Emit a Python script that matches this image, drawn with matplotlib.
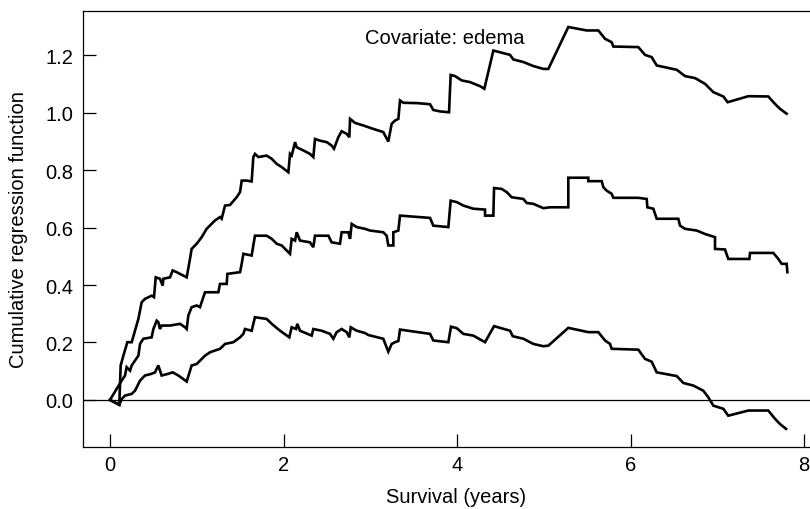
import matplotlib
matplotlib.use("Agg")
import matplotlib.pyplot as plt

plt.rcParams['font.family'] = ['Liberation Sans', 'DejaVu Sans']

# upper band of the cumulative regression function
upper_t = [0.0, 0.107, 0.123, 0.154, 0.200, 0.250, 0.327, 0.365, 0.403, 0.480,
           0.507, 0.527, 0.576, 0.607, 0.615, 0.692, 0.722, 0.768, 0.884, 0.922,
           0.941, 0.999, 1.057, 1.114, 1.210, 1.268, 1.287, 1.326, 1.383, 1.460,
           1.499, 1.518, 1.576, 1.633, 1.652, 1.671, 1.710, 1.806, 1.864, 1.922,
           1.979, 2.056, 2.075, 2.094, 2.133, 2.152, 2.229, 2.305, 2.344, 2.363,
           2.421, 2.498, 2.555, 2.582, 2.632, 2.670, 2.728, 2.759, 2.767, 2.824,
           2.920, 3.035, 3.150, 3.208, 3.247, 3.285, 3.324, 3.343, 3.381, 3.535,
           3.689, 3.727, 3.804, 3.908, 3.927, 3.977, 4.054, 4.150, 4.265, 4.315,
           4.419, 4.496, 4.611, 4.649, 4.765, 4.880, 4.995, 5.053, 5.283, 5.495,
           5.629, 5.706, 5.783, 5.802, 6.090, 6.167, 6.244, 6.302, 6.533, 6.628,
           6.744, 6.859, 6.955, 7.070, 7.120, 7.358, 7.588, 7.666, 7.723, 7.800]
upper_b = [0.0, -0.017, 0.120, 0.154, 0.201, 0.201, 0.282, 0.340, 0.352, 0.363,
           0.358, 0.427, 0.422, 0.398, 0.422, 0.427, 0.451, 0.445, 0.427, 0.491,
           0.526, 0.544, 0.567, 0.596, 0.625, 0.637, 0.631, 0.677, 0.679, 0.706,
           0.724, 0.764, 0.764, 0.761, 0.846, 0.857, 0.846, 0.851, 0.840, 0.822,
           0.811, 0.793, 0.857, 0.851, 0.898, 0.880, 0.869, 0.857, 0.846, 0.909,
           0.903, 0.898, 0.886, 0.875, 0.915, 0.936, 0.927, 0.915, 0.979, 0.965,
           0.956, 0.944, 0.933, 0.900, 0.962, 0.973, 0.979, 1.043, 1.035, 1.034,
           1.030, 1.010, 1.005, 1.002, 1.132, 1.128, 1.113, 1.107, 1.093, 1.084,
           1.217, 1.211, 1.202, 1.186, 1.177, 1.163, 1.153, 1.153, 1.299, 1.287,
           1.287, 1.258, 1.246, 1.231, 1.229, 1.202, 1.194, 1.165, 1.150, 1.128,
           1.121, 1.101, 1.072, 1.057, 1.037, 1.058, 1.057, 1.031, 1.014, 0.997]

# estimate
est_t = [0.0, 0.134, 0.173, 0.192, 0.231, 0.250, 0.288, 0.327, 0.346, 0.384,
         0.480, 0.500, 0.538, 0.557, 0.576, 0.595, 0.692, 0.807, 0.865, 0.884,
         0.903, 0.941, 0.999, 1.037, 1.095, 1.249, 1.268, 1.345, 1.353, 1.499,
         1.518, 1.537, 1.633, 1.652, 1.671, 1.806, 1.864, 1.922, 1.979, 2.075,
         2.094, 2.133, 2.152, 2.190, 2.305, 2.344, 2.363, 2.517, 2.555, 2.651,
         2.670, 2.747, 2.767, 2.786, 2.844, 2.939, 2.997, 3.150, 3.189, 3.208,
         3.266, 3.266, 3.324, 3.343, 3.689, 3.727, 3.900, 3.927, 3.997, 4.073,
         4.188, 4.323, 4.323, 4.419, 4.427, 4.515, 4.573, 4.630, 4.765, 4.803,
         4.880, 4.995, 5.072, 5.283, 5.283, 5.514, 5.514, 5.668, 5.687, 5.725,
         5.783, 5.802, 6.090, 6.187, 6.194, 6.263, 6.302, 6.551, 6.571, 6.628,
         6.763, 6.859, 6.974, 6.974, 7.089, 7.127, 7.370, 7.378, 7.646, 7.704,
         7.743, 7.800, 7.808]
est_b = [0.0, 0.067, 0.085, 0.114, 0.102, 0.120, 0.137, 0.154, 0.195, 0.213,
         0.218, 0.247, 0.276, 0.271, 0.247, 0.259, 0.259, 0.265, 0.253, 0.247,
         0.294, 0.323, 0.329, 0.323, 0.375, 0.375, 0.404, 0.404, 0.439, 0.445,
         0.474, 0.509, 0.503, 0.538, 0.572, 0.572, 0.561, 0.544, 0.538, 0.509,
         0.561, 0.555, 0.584, 0.555, 0.549, 0.532, 0.572, 0.572, 0.549, 0.544,
         0.584, 0.584, 0.561, 0.613, 0.602, 0.596, 0.590, 0.584, 0.572, 0.538,
         0.538, 0.584, 0.590, 0.642, 0.634, 0.607, 0.602, 0.694, 0.689, 0.677,
         0.666, 0.663, 0.642, 0.642, 0.738, 0.735, 0.724, 0.706, 0.700, 0.686,
         0.683, 0.668, 0.671, 0.671, 0.774, 0.774, 0.762, 0.762, 0.741, 0.729,
         0.718, 0.704, 0.704, 0.700, 0.671, 0.666, 0.631, 0.631, 0.607, 0.596,
         0.590, 0.578, 0.567, 0.526, 0.524, 0.491, 0.491, 0.512, 0.512, 0.491,
         0.474, 0.474, 0.445]

# lower band
lower_t = [0.0, 0.107, 0.134, 0.173, 0.250, 0.288, 0.346, 0.403, 0.480, 0.519,
           0.557, 0.595, 0.672, 0.722, 0.788, 0.884, 0.941, 0.999, 1.095, 1.153,
           1.268, 1.326, 1.422, 1.499, 1.537, 1.556, 1.633, 1.671, 1.806, 1.864,
           1.960, 2.067, 2.094, 2.144, 2.159, 2.190, 2.325, 2.344, 2.440, 2.536,
           2.574, 2.613, 2.670, 2.728, 2.759, 2.775, 2.844, 2.939, 2.978, 3.150,
           3.208, 3.247, 3.285, 3.324, 3.343, 3.689, 3.727, 3.900, 3.931, 3.997,
           4.073, 4.188, 4.323, 4.427, 4.611, 4.642, 4.765, 4.880, 4.995, 5.053,
           5.283, 5.514, 5.629, 5.706, 5.764, 5.783, 6.090, 6.167, 6.244, 6.302,
           6.533, 6.609, 6.724, 6.839, 6.897, 6.955, 7.070, 7.127, 7.358, 7.588,
           7.666, 7.723, 7.793]
lower_b = [0.0, -0.017, 0.003, 0.015, 0.021, 0.032, 0.067, 0.085, 0.091, 0.096,
           0.120, 0.085, 0.091, 0.096, 0.085, 0.064, 0.120, 0.125, 0.154, 0.166,
           0.178, 0.195, 0.201, 0.218, 0.230, 0.247, 0.241, 0.288, 0.282, 0.265,
           0.241, 0.218, 0.253, 0.247, 0.265, 0.241, 0.224, 0.247, 0.241, 0.230,
           0.213, 0.236, 0.247, 0.236, 0.218, 0.253, 0.241, 0.233, 0.226, 0.213,
           0.168, 0.195, 0.201, 0.205, 0.245, 0.230, 0.207, 0.201, 0.255, 0.250,
           0.230, 0.224, 0.201, 0.257, 0.241, 0.222, 0.213, 0.195, 0.187, 0.189,
           0.251, 0.236, 0.236, 0.207, 0.195, 0.178, 0.175, 0.143, 0.133, 0.096,
           0.083, 0.059, 0.050, 0.032, 0.009, -0.020, -0.031, -0.055, -0.037, -0.037,
           -0.066, -0.084, -0.101]

x_ticks = [0, 2, 4, 6, 8]
y_ticks = [0.0, 0.2, 0.4, 0.6, 0.8, 1.0, 1.2]

fig = plt.figure(figsize=(8.1, 5.1), dpi=100)
ax = fig.add_axes([0.1025, 0.1216, 0.8975, 0.855])

for t, b in [(upper_t, upper_b), (est_t, est_b), (lower_t, lower_b)]:
    ax.plot(t, b, color='black', lw=1.9, solid_joinstyle='miter')
ax.axhline(0, color='black', lw=0.9)

ax.set_xlim(-0.311, 8.069)
ax.set_ylim(-0.164, 1.355)
ax.set_xticks(x_ticks)
ax.set_xticklabels([str(v) for v in x_ticks])
ax.set_yticks(y_ticks)
ax.set_yticklabels(['%.1f' % v for v in y_ticks])
ax.tick_params(direction='in', length=9.5, width=0.9, labelsize=14.5)
ax.tick_params(axis='y', pad=7)
ax.tick_params(axis='x', pad=6)
ax.spines['right'].set_visible(False)
for s in ['left', 'bottom', 'top']:
    ax.spines[s].set_linewidth(0.9)

ax.set_xlabel('Survival (years)', fontsize=14.5)
ax.xaxis.set_label_coords(0.513, -0.092)
ax.set_ylabel('Cumulative regression function', fontsize=14.5)
ax.yaxis.set_label_coords(-0.076, 0.5)

ax.text(2.94, 1.262, 'Covariate: edema', fontsize=14.5, ha='left', va='center')

fig.savefig('out.png', dpi=100)
